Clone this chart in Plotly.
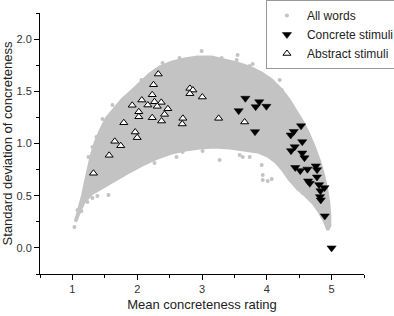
import plotly.graph_objects as go

# Outline of the dense "All words" cloud (mean, sd)
cloud_mean = [1.046, 1.108, 1.155, 1.201, 1.247, 1.294, 1.355, 1.433, 1.526, 1.649, 1.773, 1.896,
              2.036, 2.190, 2.345, 2.530, 2.731, 2.932, 3.148, 3.349, 3.550, 3.736, 3.921, 4.076,
              4.215, 4.338, 4.447, 4.555, 4.648, 4.740, 4.818, 4.879, 4.926, 4.957, 4.972, 4.972,
              4.941, 4.895, 4.818, 4.725, 4.601, 4.478, 4.354, 4.246, 4.138, 4.014, 3.859, 3.658,
              3.427, 3.195, 2.963, 2.747, 2.530, 2.314, 2.082, 1.850, 1.634, 1.448, 1.294, 1.170,
              1.093, 1.046]
cloud_sd = [0.249, 0.383, 0.498, 0.632, 0.766, 0.890, 1.014, 1.129, 1.244, 1.340, 1.426, 1.493,
            1.579, 1.665, 1.732, 1.780, 1.809, 1.828, 1.828, 1.799, 1.770, 1.732, 1.675, 1.608,
            1.522, 1.426, 1.321, 1.206, 1.091, 0.957, 0.823, 0.689, 0.555, 0.431, 0.316, 0.211,
            0.172, 0.249, 0.335, 0.421, 0.498, 0.565, 0.651, 0.746, 0.823, 0.880, 0.919, 0.938,
            0.957, 0.967, 0.957, 0.938, 0.909, 0.861, 0.794, 0.718, 0.641, 0.574, 0.517, 0.431,
            0.325, 0.249]

# Scattered individual words outside the dense area
words_mean = [2.654, 2.298, 2.144, 1.835, 1.773, 1.371, 1.309, 1.247, 2.994, 2.391, 2.066, 1.618,
              1.464, 3.303, 3.535, 3.736, 3.859, 4.199, 4.230, 3.550, 3.782,
              2.267, 2.607, 2.700, 3.009, 3.272, 3.628, 3.736, 3.921, 3.937, 3.937, 4.014, 4.076,
              3.581, 1.556,
              1.031, 1.062, 1.077, 1.139, 1.155, 1.232, 1.309, 1.386,
              4.555, 4.663, 4.771, 4.849, 4.895, 4.941]
words_sd = [1.818, 1.703, 1.608, 1.445, 1.416, 1.062, 0.967, 0.871, 1.885, 1.770, 1.608, 1.368,
            1.234, 1.818, 1.799, 1.742, 1.665, 1.608, 1.512, 1.847, 1.761,
            0.813, 0.871, 0.919, 0.928, 0.842, 0.871, 0.871, 0.794, 0.699, 0.651, 0.641, 0.660,
            0.890, 0.507,
            0.201, 0.278, 0.364, 0.354, 0.411, 0.440, 0.478, 0.498,
            0.526, 0.488, 0.431, 0.364, 0.297, 0.201]

concrete_mean = [3.669, 3.883, 3.828, 3.994, 3.566, 3.818, 4.529, 4.416, 4.369, 4.547, 4.431,
                 4.374, 4.547, 4.581, 4.756, 4.439, 4.516, 4.627, 4.776, 4.774, 4.637, 4.663,
                 4.807, 4.890, 4.828, 4.821, 4.833, 4.895, 5.000]
concrete_sd = [1.433, 1.399, 1.352, 1.356, 1.314, 1.113, 1.169, 1.115, 1.081, 1.017, 0.968,
               0.931, 0.909, 0.863, 0.785, 0.770, 0.740, 0.754, 0.749, 0.679, 0.641, 0.619,
               0.606, 0.577, 0.547, 0.491, 0.459, 0.306, 0.000]

abstract_mean = [2.325, 2.252, 2.813, 2.859, 2.813, 3.005, 2.232, 2.071, 1.923, 2.164, 2.267,
                 2.371, 2.309, 2.473, 2.025, 2.025, 2.422, 2.232, 2.376, 2.705, 2.695, 3.257,
                 3.658, 1.793, 1.969, 2.000, 1.654, 1.746, 1.567, 1.325]
abstract_sd = [1.665, 1.563, 1.528, 1.512, 1.477, 1.445, 1.467, 1.416, 1.366, 1.368, 1.400,
               1.394, 1.356, 1.333, 1.304, 1.256, 1.279, 1.247, 1.215, 1.241, 1.187, 1.241,
               1.206, 1.199, 1.110, 1.056, 1.021, 0.979, 0.887, 0.715]

GRAY = "#c3c3c3"
FONT = "Liberation Sans, Arial, sans-serif"

fig = go.Figure()
fig.add_trace(go.Scatter(x=cloud_mean, y=cloud_sd, mode="lines", fill="toself",
                         fillcolor=GRAY, line=dict(color=GRAY, width=3),
                         showlegend=False, hoverinfo="skip"))
fig.add_trace(go.Scatter(x=words_mean, y=words_sd, mode="markers", name="All words",
                         marker=dict(symbol="circle", size=4, color=GRAY)))
fig.add_trace(go.Scatter(x=concrete_mean, y=concrete_sd, mode="markers", name="Concrete stimuli",
                         marker=dict(symbol="triangle-down", size=8, color="black",
                                     line=dict(color="black", width=0.5))))
fig.add_trace(go.Scatter(x=abstract_mean, y=abstract_sd, mode="markers", name="Abstract stimuli",
                         marker=dict(symbol="triangle-up", size=7, color="white",
                                     line=dict(color="black", width=1))))

axis_common = dict(showline=True, linecolor="black", linewidth=1, showgrid=False,
                   zeroline=False, ticks="outside", ticklen=5, tickwidth=1, tickcolor="black",
                   tickfont=dict(family=FONT, size=11, color="#333333"), mirror=False,
                   automargin=False)

fig.update_xaxes(range=[0.5, 5.5], tickvals=[1, 2, 3, 4, 5],
                 minor=dict(ticks="outside", ticklen=3, tickwidth=1, tickcolor="black", dtick=0.5, tick0=0.5),
                 title=dict(text="Mean concreteness rating", font=dict(family=FONT, size=13, color="#222"),
                            standoff=5),
                 **axis_common)
fig.update_yaxes(range=[-0.25, 2.25], tickvals=[0, 0.5, 1.0, 1.5, 2.0], tickformat=".1f",
                 minor=dict(ticks="outside", ticklen=3, tickwidth=1, tickcolor="black", dtick=0.25, tick0=0),
                 title=dict(text="Standard deviation of concreteness", font=dict(family=FONT, size=13, color="#222"),
                            standoff=2),
                 **axis_common)

fig.update_layout(
    width=394, height=316,
    margin=dict(l=40, r=30, t=13, b=42, autoexpand=False),
    plot_bgcolor="white", paper_bgcolor="white",
    legend=dict(xref="container", yref="container", x=0.675, y=1.0,
                xanchor="left", yanchor="top",
                bordercolor="#999999", borderwidth=1, bgcolor="white",
                font=dict(family=FONT, size=12, color="#222"),
                itemwidth=30, tracegroupgap=0),
)

fig.write_html("out.html", config={"displayModeBar": False},
               post_script="document.body.style.margin='0px';")
